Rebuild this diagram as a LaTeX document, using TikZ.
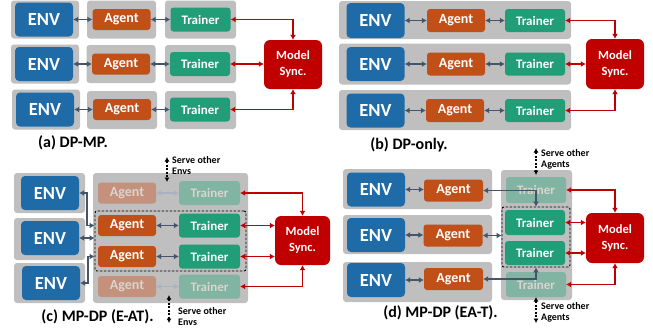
\documentclass[tikz,border=0pt]{standalone}
\usepackage{fontspec}
\setmainfont{Carlito}
\usetikzlibrary{arrows.meta,calc}
\definecolor{envblue}{RGB}{31,107,168}
\definecolor{agentorange}{RGB}{192,80,24}
\definecolor{trainergreen}{RGB}{33,157,120}
\definecolor{syncred}{RGB}{192,0,0}
\definecolor{boxgray}{RGB}{191,191,191}
\definecolor{arrowblue}{RGB}{68,84,106}
\definecolor{fadeorange}{RGB}{196,145,124}
\definecolor{fadegreen}{RGB}{130,180,163}
\definecolor{fadetext}{RGB}{218,212,208}
\definecolor{fadearrow}{RGB}{168,178,192}
\begin{document}
\begin{tikzpicture}[x=1pt,y=-1pt,
 bg/.style={fill=boxgray, rounded corners=3pt, inner sep=0pt},
 envbox/.style={fill=envblue, rounded corners=4pt, text=white, font=\bfseries\fontsize{18.5}{20}\selectfont, inner sep=0pt, minimum width=58pt, minimum height=34pt},
 agentbox/.style={fill=agentorange, rounded corners=3pt, text=white, font=\bfseries\fontsize{14}{16}\selectfont, inner sep=0pt, minimum width=58pt, minimum height=21pt},
 trainerbox/.style={fill=trainergreen, rounded corners=3pt, text=white, font=\bfseries\fontsize{13}{15}\selectfont, inner sep=0pt, minimum width=60pt, minimum height=24pt},
 fagent/.style={agentbox, fill=fadeorange, text=fadetext},
 ftrainer/.style={trainerbox, fill=fadegreen, text=fadetext},
 syncbox/.style={fill=syncred, rounded corners=6pt, text=white, font=\bfseries\fontsize{12.5}{16}\selectfont, align=center, inner sep=0pt, minimum width=58pt, minimum height=49pt},
 captext/.style={font=\bfseries\fontsize{16}{18}\selectfont, inner sep=0pt},
 servetext/.style={font=\bfseries\fontsize{10}{11}\selectfont, align=left, inner sep=0pt, anchor=north west},
 dashbox/.style={draw=black, line width=0.9pt, dash pattern=on 2.5pt off 1.5pt, rounded corners=2pt, inner sep=0pt},
 dbl/.style={draw=arrowblue, line width=1.8pt, {Latex[length=5pt,width=6pt]}-{Latex[length=5pt,width=6pt]}},
 fadedbl/.style={draw=fadearrow, line width=1.8pt, {Latex[length=5pt,width=6pt]}-{Latex[length=5pt,width=6pt]}},
 reddbl/.style={draw=syncred, line width=1.8pt, {Latex[length=5pt,width=6pt]}-{Latex[length=5pt,width=6pt]}},
 servearr/.style={draw=black, line width=1.1pt, dash pattern=on 2pt off 1.5pt, {Latex[length=4.5pt,width=5pt]}-{Latex[length=4.5pt,width=5pt]}}
]
\useasboundingbox (0,0) rectangle (653,335);

% ---------------- (a) DP-MP ----------------
\node[bg, minimum width=68pt, minimum height=38pt] (agE1) at (45,19.5) {};
\node[bg, minimum width=69pt, minimum height=38pt] (agA1) at (121.5,19.5) {};
\node[bg, minimum width=71pt, minimum height=38pt] (agT1) at (200.5,19.5) {};
\node[bg, minimum width=68pt, minimum height=39pt] (agE2) at (45,64) {};
\node[bg, minimum width=69pt, minimum height=38pt] (agA2) at (121,64) {};
\node[bg, minimum width=71pt, minimum height=38pt] (agT2) at (200.5,64) {};
\node[bg, minimum width=68pt, minimum height=40pt] (agE3) at (46,109.5) {};
\node[bg, minimum width=70pt, minimum height=38pt] (agA3) at (122,110) {};
\node[bg, minimum width=71pt, minimum height=38pt] (agT3) at (200.5,110) {};

\node[envbox] (ae1) at (44,19.5) {ENV};
\node[envbox] (ae2) at (44,64) {ENV};
\node[envbox] (ae3) at (45,109.5) {ENV};
\node[agentbox] (aa1) at (121.5,19.5) {Agent};
\node[agentbox] (aa2) at (121,64) {Agent};
\node[agentbox] (aa3) at (122,109.5) {Agent};
\node[trainerbox] (at1) at (200.5,19.5) {Trainer};
\node[trainerbox] (at2) at (200,64) {Trainer};
\node[trainerbox] (at3) at (200,109.5) {Trainer};
\node[syncbox] (am) at (293,64.5) {Model\\Sync.};

\draw[dbl] (ae1.east) -- (aa1.west);
\draw[dbl] (ae2.east) -- (aa2.west);
\draw[dbl] (ae3.east) -- (aa3.west);
\draw[dbl] (aa1.east) -- (at1.west);
\draw[dbl] (aa2.east) -- (at2.west);
\draw[dbl] (aa3.east) -- (at3.west);
\draw[reddbl] (at1.east) -| (am.north);
\draw[reddbl] (at2.east) -- (am.west |- at2.east);
\draw[reddbl] (at3.east) -| (am.south);
\node[captext] (capa) at (73,143) {(a) DP-MP.};

% ---------------- (b) DP-only ----------------
\node[bg, minimum width=232pt, minimum height=38pt] (bg1) at (455,20) {};
\node[bg, minimum width=232pt, minimum height=41pt] (bg2) at (455,64) {};
\node[bg, minimum width=232pt, minimum height=40pt] (bg3) at (455,110) {};
\node[envbox, minimum height=35pt] (be1) at (375.5,20.5) {ENV};
\node[envbox] (be2) at (375.5,64) {ENV};
\node[envbox] (be3) at (375.5,110.5) {ENV};
\node[agentbox, minimum height=23pt] (ba1) at (456,20.5) {Agent};
\node[agentbox, minimum height=23pt] (ba2) at (456,64) {Agent};
\node[agentbox, minimum height=23pt] (ba3) at (455,110.5) {Agent};
\node[trainerbox, minimum height=23pt] (bt1) at (535,20.5) {Trainer};
\node[trainerbox, minimum height=23pt] (bt2) at (535,64) {Trainer};
\node[trainerbox, minimum height=23pt] (bt3) at (535,110.5) {Trainer};
\node[syncbox, minimum height=50pt] (bm) at (615,64) {Model\\Sync.};

\draw[dbl] (be1.east) -- (ba1.west);
\draw[dbl] (be2.east) -- (ba2.west);
\draw[dbl] (be3.east) -- (ba3.west);
\draw[dbl] (ba1.east) -- (bt1.west);
\draw[dbl] (ba2.east) -- (bt2.west);
\draw[dbl] (ba3.east) -- (bt3.west);
\draw[reddbl] (bt1.east) -| (bm.north);
\draw[reddbl] (bt2.east) -- (bm.west |- bt2.east);
\draw[reddbl] (bt3.east) -| (bm.south);
\node[captext] (capb) at (409,145) {(b) DP-only.};

% ---------------- (c) MP-DP (E-AT) ----------------
\node[bg, minimum width=71pt, minimum height=40pt] (cgE1) at (49.5,193) {};
\node[bg, minimum width=71pt, minimum height=42pt] (cgE2) at (49.5,239) {};
\node[bg, minimum width=71pt, minimum height=40pt] (cgE3) at (49.5,283) {};
\node[bg, minimum width=155pt, minimum height=130pt] (cgbig) at (170.5,238) {};
\node[envbox] (ce1) at (50,193) {ENV};
\node[envbox] (ce2) at (50,238) {ENV};
\node[envbox] (ce3) at (51,283) {ENV};
\node[fagent] (ca1) at (127,193) {Agent};
\node[agentbox] (ca2) at (127,225.5) {Agent};
\node[agentbox] (ca3) at (127,256.5) {Agent};
\node[fagent] (ca4) at (127,286.5) {Agent};
\node[ftrainer, minimum width=61pt] (ct1) at (209.5,193) {Trainer};
\node[trainerbox, minimum width=61pt] (ct2) at (209.5,225.5) {Trainer};
\node[trainerbox, minimum width=61pt] (ct3) at (209.5,256.5) {Trainer};
\node[ftrainer, minimum width=61pt] (ct4) at (209.5,286.5) {Trainer};
\node[dashbox, minimum width=151pt, minimum height=60pt] (cbox) at (170.5,241) {};
\node[syncbox, minimum width=55pt] (cm) at (302.5,240.5) {Model\\Sync.};

\draw[fadedbl] (ca1.east) -- (ct1.west);
\draw[dbl] (ca2.east) -- (ct2.west);
\draw[dbl] (ca3.east) -- (ct3.west);
\draw[fadedbl] (ca4.east) -- (ct4.west);
\draw[dbl] (ce1.east) -- ++(8,0) |- (cbox.west |- ca2.west);
\draw[dbl] (ce2.east) -- (cbox.west |- ce2.east);
\draw[dbl] (ce3.east) -- ++(8,0) |- (cbox.west |- ca3.west);
\draw[reddbl] (ct1.east) -| (cm.north);
\draw[reddbl] (ct2.east) -- (cm.west |- ct2.east);
\draw[reddbl] (ct3.east) -- (cm.west |- ct3.east);
\draw[reddbl] (ct4.east) -| (cm.south);

\coordinate (cst1) at (167,157);
\coordinate (cst2) at (167,182);
\draw[servearr] (cst1) -- (cst2);
\node[servetext] (cserve1) at (172,156) {Serve other\\Envs};
\coordinate (csb1) at (169,295);
\coordinate (csb2) at (169,323);
\draw[servearr] (csb1) -- (csb2);
\node[servetext] (cserve2) at (178,307) {Serve other\\Envs};
\node[captext] (capc) at (97.5,317) {(c) MP-DP (E-AT).};

% ---------------- (d) MP-DP (EA-T) ----------------
\node[bg, minimum width=149pt, minimum height=40pt] (dg1) at (417.5,189) {};
\node[bg, minimum width=149pt, minimum height=39pt] (dg2) at (417.5,234.5) {};
\node[bg, minimum width=149pt, minimum height=40pt] (dg3) at (417.5,282) {};
\node[bg, minimum width=71pt, minimum height=130pt] (dgT) at (536.5,235) {};
\node[envbox] (de1) at (376,189.5) {ENV};
\node[envbox] (de2) at (376,235) {ENV};
\node[envbox] (de3) at (376,280) {ENV};
\node[agentbox, minimum width=59pt, minimum height=22pt] (da1) at (453.5,190.5) {Agent};
\node[agentbox, minimum width=59pt, minimum height=22pt] (da2) at (453,235.5) {Agent};
\node[agentbox, minimum width=59pt, minimum height=22pt] (da3) at (453.5,279) {Agent};
\node[ftrainer, minimum height=26pt] (dt1) at (536,190) {Trainer};
\node[trainerbox, minimum height=25pt] (dt2) at (535,222.5) {Trainer};
\node[trainerbox, minimum height=24pt] (dt3) at (535,253) {Trainer};
\node[ftrainer, minimum height=25pt] (dt4) at (536,284.5) {Trainer};
\node[dashbox, minimum width=68pt, minimum height=60pt] (dbox) at (536,237) {};
\node[syncbox, minimum height=50pt] (dm) at (615,238) {Model\\Sync.};

\draw[dbl] (de1.east) -- (da1.west |- de1.east);
\draw[dbl] (de2.east) -- (da2.west |- de2.east);
\draw[dbl] (de3.east) -- (da3.west |- de3.east);
\draw[dbl] (da1.east) -| (dbox.north);
\draw[dbl] (da2.east) -- (dbox.west |- da2.east);
\draw[dbl] (da3.east) -| (dbox.south);
\draw[reddbl] (dt1.east) -| (dm.north);
\draw[reddbl] (dt2.east) -- (dm.west |- dt2.east);
\draw[reddbl] (dt3.east) -- (dm.west |- dt3.east);
\draw[reddbl] (dt4.east) -| (dm.south);

\coordinate (dst1) at (536,148);
\coordinate (dst2) at (536,175);
\draw[servearr] (dst1) -- (dst2);
\node[servetext] (dserve1) at (541,149) {Serve other\\Agents};
\coordinate (dsb1) at (536,297);
\coordinate (dsb2) at (536,323);
\draw[servearr] (dsb1) -- (dsb2);
\node[servetext] (dserve2) at (541,302) {Serve other\\Agents};
\node[captext] (capd) at (440.5,313) {(d) MP-DP (EA-T).};
\end{tikzpicture}
\end{document}
